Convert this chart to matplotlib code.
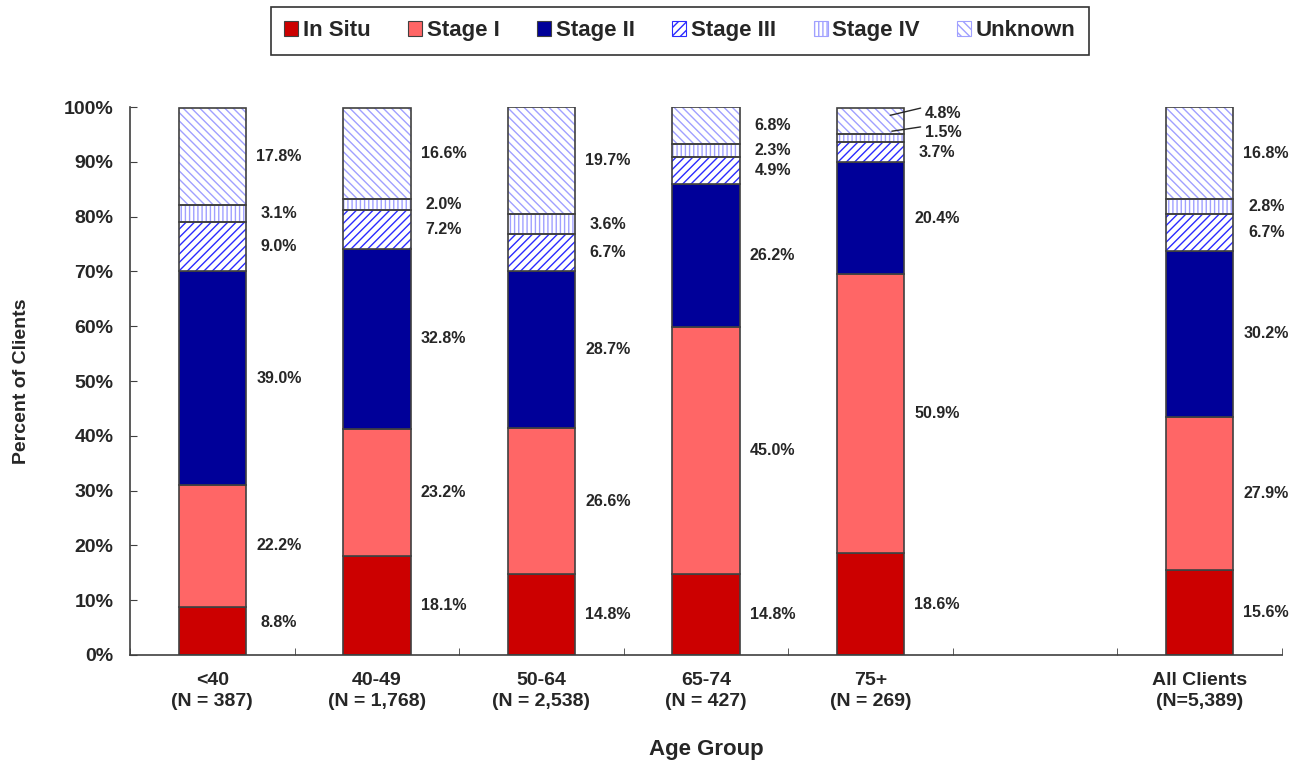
import numpy as np
import matplotlib.pyplot as plt
from matplotlib.patches import Patch
from matplotlib.ticker import PercentFormatter, FixedLocator

plt.rcParams['font.family'] = ['Liberation Sans', 'DejaVu Sans']
plt.rcParams['font.weight'] = 'bold'
plt.rcParams['hatch.linewidth'] = 1.0

# data (percent of clients)
groups = ['<40', '40-49', '50-64', '65-74', '75+', 'All Clients']
n_labels = ['(N = 387)', '(N = 1,768)', '(N = 2,538)', '(N = 427)', '(N = 269)', '(N=5,389)']
stages = ['In Situ', 'Stage I', 'Stage II', 'Stage III', 'Stage IV', 'Unknown']
in_situ = [8.8, 18.1, 14.8, 14.8, 18.6, 15.6]
stage1 = [22.2, 23.2, 26.6, 45.0, 50.9, 27.9]
stage2 = [39.0, 32.8, 28.7, 26.2, 20.4, 30.2]
stage3 = [9.0, 7.2, 6.7, 4.9, 3.7, 6.7]
stage4 = [3.1, 2.0, 3.6, 2.3, 1.5, 2.8]
unknown = [17.8, 16.6, 19.7, 6.8, 4.8, 16.8]

series = [in_situ, stage1, stage2, stage3, stage4, unknown]
fills = ['#CC0000', '#FF6666', '#000099', 'white', 'white', 'white']
hatch_cols = [None, None, None, '#2B2BFF', '#A0A0FF', '#A0A0FF']
hatches = [None, None, None, '////', '||||', '\\\\\\\\']
edge = '#404040'
txt = '#262626'

x = np.array([0, 1, 2, 3, 4, 6])
w = 0.41

fig = plt.figure(figsize=(13.04, 7.65), dpi=100)
ax = fig.add_axes([0.0997, 0.1438, 0.8833, 0.7162])

bottom = np.zeros(len(x))
for i, vals in enumerate(series):
    vals = np.array(vals)
    if hatches[i] is None:
        ax.bar(x, vals, w, bottom=bottom, color=fills[i], edgecolor=edge, linewidth=1.2, zorder=2)
    else:
        ax.bar(x, vals, w, bottom=bottom, color='white', edgecolor=hatch_cols[i],
               hatch=hatches[i], linewidth=0, zorder=2)
        ax.bar(x, vals, w, bottom=bottom, fill=False, edgecolor=edge, linewidth=1.2, zorder=3)
    for j in range(len(x)):
        if j == 4 and i >= 4:
            continue
        mid = max(bottom[j] + vals[j] / 2, 6)
        ax.text(x[j] + w / 2 + 0.2, mid, f'{vals[j]:.1f}%', ha='center', va='center',
                fontsize=11.5, color=txt)
    bottom += vals

# leader-line labels for the small top segments of 75+
ax.annotate('4.8%', xy=(4 + 0.12, 98.5), xytext=(4.33, 98.9), ha='left', va='center',
            fontsize=11.5, color=txt,
            arrowprops=dict(arrowstyle='-', color=txt, lw=1, relpos=(0, 0.9), shrinkA=1, shrinkB=0))
ax.annotate('1.5%', xy=(4 + 0.13, 95.6), xytext=(4.33, 95.4), ha='left', va='center',
            fontsize=11.5, color=txt,
            arrowprops=dict(arrowstyle='-', color=txt, lw=1, relpos=(0, 0.9), shrinkA=1, shrinkB=0))

ax.set_xlim(-0.5, 6.5)
ax.set_ylim(0, 100)
ax.yaxis.set_major_formatter(PercentFormatter(decimals=0))
ax.set_yticks(np.arange(0, 101, 10))
ax.set_xticks(x, [f'{g}\n{n}' for g, n in zip(groups, n_labels)])
for lab in ax.get_xticklabels():
    lab.set_linespacing(1.35)
ax.xaxis.set_minor_locator(FixedLocator(np.arange(-0.5, 6.6, 1)))
ax.tick_params(axis='x', which='major', length=0, pad=12, labelsize=14, labelcolor=txt)
ax.tick_params(axis='x', which='minor', direction='in', length=5, color=edge)
ax.tick_params(axis='y', direction='in', length=5, color=edge, labelsize=14, labelcolor=txt, pad=12)
for s in ['top', 'right']:
    ax.spines[s].set_visible(False)
for s in ['left', 'bottom']:
    ax.spines[s].set_color(edge)
    ax.spines[s].set_linewidth(1.2)

ax.set_xlabel('Age Group', fontsize=16, fontweight='bold', color=txt, labelpad=21)
ax.set_ylabel('Percent of Clients', fontsize=14, fontweight='bold', color=txt, labelpad=24)

handles = []
for i in range(6):
    if hatches[i] is None:
        handles.append(Patch(facecolor=fills[i], edgecolor=edge, linewidth=0.8))
    else:
        handles.append(Patch(facecolor='white', edgecolor=hatch_cols[i], hatch=hatches[i], linewidth=0.8))
leg = fig.legend(handles, stages, loc='upper center', bbox_to_anchor=(0.5215, 0.991), ncol=6,
                 fontsize=16, frameon=True, fancybox=False, edgecolor='black',
                 handlelength=0.63, handleheight=0.72, handletextpad=0.2, columnspacing=1.7,
                 borderpad=0.6, borderaxespad=0)
leg.get_frame().set_linewidth(1.2)
for t in leg.get_texts():
    t.set_color(txt)

fig.savefig('out.png', dpi=100)
